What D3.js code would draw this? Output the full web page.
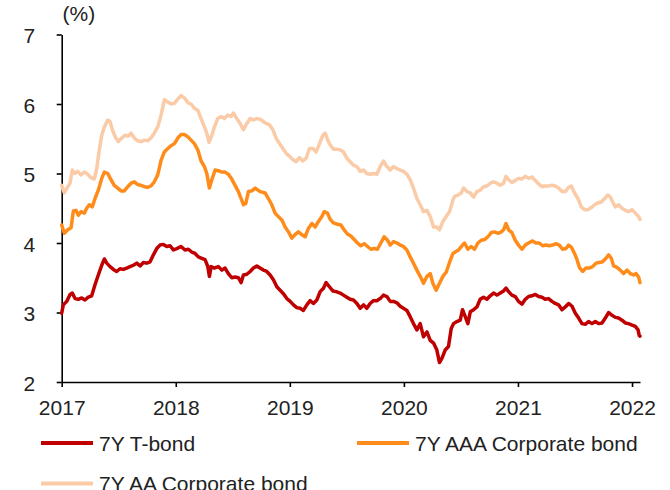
<!DOCTYPE html>
<html><head><meta charset="utf-8">
<script src="https://cdn.jsdelivr.net/npm/d3@7"></script>
<style>body{margin:0;background:#fff}svg{display:block;font-family:"Liberation Sans",Arial,sans-serif}</style>
</head><body><svg id="c" width="670" height="490"></svg>
<script>
// Tick labels
const yearTicks = [2017, 2018, 2019, 2020, 2021, 2022];
const yTicks = [2, 3, 4, 5, 6, 7];
const unitLabel = "(%)";
const seriesNames = ["7Y T-bond", "7Y AAA Corporate bond", "7Y AA Corporate bond"];
const seriesColors = ["#C00000", "#FF8C1A", "#FACBA6"];
const baseYear = 2017;
const lastT = 5.07; // years since Jan 2017 at the end of the data

// [years since Jan 2017, yield %]
const tbond = [
[0,2.99],[0.014,3.11],[0.044,3.16],[0.073,3.26],[0.093,3.28],[0.117,3.20],[0.146,3.19],[0.175,3.21],[0.204,3.18],[0.233,3.22],
[0.263,3.24],[0.292,3.40],[0.321,3.54],[0.351,3.68],[0.374,3.77],[0.395,3.71],[0.424,3.66],[0.453,3.62],[0.482,3.59],[0.511,3.63],
[0.540,3.62],[0.570,3.64],[0.599,3.66],[0.628,3.68],[0.658,3.71],[0.687,3.67],[0.716,3.72],[0.746,3.71],[0.775,3.73],[0.804,3.83],
[0.833,3.92],[0.862,3.97],[0.891,3.98],[0.921,3.95],[0.950,3.96],[0.979,3.90],[1.009,3.92],[1.046,3.95],[1.081,3.90],[1.111,3.91],
[1.140,3.87],[1.169,3.85],[1.198,3.80],[1.228,3.78],[1.257,3.76],[1.281,3.66],[1.295,3.52],[1.310,3.66],[1.339,3.64],[1.374,3.66],
[1.404,3.61],[1.432,3.64],[1.461,3.56],[1.491,3.50],[1.520,3.51],[1.549,3.50],[1.573,3.43],[1.593,3.54],[1.623,3.55],[1.652,3.59],
[1.681,3.64],[1.711,3.67],[1.739,3.64],[1.768,3.61],[1.798,3.59],[1.827,3.54],[1.856,3.47],[1.886,3.37],[1.915,3.32],[1.944,3.27],
[1.974,3.20],[2.003,3.16],[2.032,3.11],[2.061,3.07],[2.090,3.06],[2.119,3.03],[2.149,3.11],[2.178,3.17],[2.207,3.13],[2.237,3.18],
[2.266,3.30],[2.295,3.35],[2.318,3.43],[2.347,3.37],[2.377,3.31],[2.406,3.30],[2.441,3.28],[2.470,3.25],[2.500,3.22],[2.529,3.19],
[2.558,3.18],[2.588,3.13],[2.617,3.06],[2.646,3.11],[2.675,3.06],[2.704,3.13],[2.733,3.17],[2.763,3.17],[2.792,3.20],[2.821,3.25],
[2.851,3.23],[2.880,3.16],[2.909,3.16],[2.939,3.14],[2.968,3.09],[2.996,3.06],[3.026,3.03],[3.055,2.94],[3.084,2.84],[3.114,2.75],
[3.143,2.84],[3.172,2.65],[3.202,2.72],[3.231,2.60],[3.260,2.56],[3.289,2.46],[3.312,2.28],[3.333,2.34],[3.362,2.46],[3.391,2.51],
[3.415,2.77],[3.435,2.84],[3.465,2.87],[3.494,2.89],[3.514,3.04],[3.538,2.94],[3.561,2.84],[3.582,3.01],[3.611,3.04],[3.640,3.08],
[3.669,3.19],[3.698,3.22],[3.728,3.19],[3.757,3.24],[3.786,3.28],[3.816,3.25],[3.845,3.28],[3.874,3.31],[3.895,3.35],[3.918,3.30],
[3.947,3.25],[3.976,3.23],[4.005,3.16],[4.035,3.12],[4.064,3.19],[4.093,3.23],[4.123,3.24],[4.152,3.26],[4.181,3.23],[4.211,3.22],
[4.239,3.19],[4.268,3.20],[4.298,3.16],[4.327,3.13],[4.356,3.11],[4.386,3.04],[4.415,3.08],[4.444,3.13],[4.474,3.09],[4.503,2.99],
[4.532,2.92],[4.561,2.84],[4.590,2.83],[4.619,2.87],[4.649,2.84],[4.678,2.87],[4.707,2.84],[4.737,2.85],[4.766,2.92],[4.795,3.00],
[4.825,2.96],[4.854,2.93],[4.882,2.92],[4.912,2.89],[4.941,2.85],[4.970,2.84],[5.000,2.82],[5.029,2.80],[5.053,2.75],[5.063,2.67],
[5.070,2.66]
];

const aaa = [
[0,4.26],[0.023,4.14],[0.053,4.19],[0.082,4.22],[0.102,4.46],[0.125,4.47],[0.146,4.40],[0.169,4.45],[0.198,4.43],[0.219,4.50],
[0.242,4.55],[0.268,4.52],[0.292,4.64],[0.321,4.76],[0.351,4.93],[0.374,5.02],[0.404,5.00],[0.432,4.91],[0.461,4.83],[0.491,4.79],
[0.520,4.75],[0.549,4.75],[0.579,4.81],[0.608,4.86],[0.637,4.88],[0.667,4.84],[0.696,4.83],[0.725,4.81],[0.754,4.80],[0.782,4.82],
[0.812,4.88],[0.842,4.98],[0.871,5.19],[0.900,5.31],[0.930,5.36],[0.959,5.40],[0.988,5.43],[1.018,5.51],[1.046,5.56],[1.075,5.56],
[1.105,5.53],[1.134,5.48],[1.163,5.43],[1.193,5.34],[1.222,5.18],[1.251,5.10],[1.272,5.00],[1.295,4.79],[1.316,4.91],[1.345,5.05],
[1.374,5.04],[1.404,5.02],[1.432,5.02],[1.461,4.99],[1.491,4.92],[1.520,4.83],[1.549,4.74],[1.573,4.64],[1.593,4.55],[1.614,4.57],
[1.637,4.74],[1.667,4.75],[1.696,4.79],[1.739,4.74],[1.783,4.72],[1.812,4.64],[1.842,4.55],[1.871,4.43],[1.900,4.38],[1.930,4.33],
[1.959,4.23],[1.988,4.16],[2.018,4.07],[2.046,4.12],[2.075,4.16],[2.105,4.12],[2.134,4.09],[2.163,4.21],[2.193,4.28],[2.222,4.23],
[2.251,4.31],[2.281,4.38],[2.301,4.45],[2.330,4.43],[2.354,4.34],[2.382,4.29],[2.418,4.27],[2.447,4.26],[2.476,4.19],[2.505,4.13],
[2.535,4.10],[2.564,4.05],[2.593,4.00],[2.623,3.96],[2.652,3.99],[2.681,3.95],[2.711,3.91],[2.739,3.92],[2.768,3.91],[2.798,4.00],
[2.827,4.09],[2.856,4.04],[2.880,3.97],[2.909,4.02],[2.939,4.00],[2.968,3.97],[2.996,3.95],[3.026,3.90],[3.055,3.80],[3.084,3.71],
[3.114,3.61],[3.143,3.52],[3.172,3.42],[3.202,3.52],[3.231,3.56],[3.254,3.42],[3.283,3.32],[3.312,3.42],[3.342,3.52],[3.371,3.58],
[3.400,3.72],[3.430,3.85],[3.450,3.87],[3.479,3.90],[3.509,3.96],[3.532,4.00],[3.561,3.91],[3.590,3.95],[3.619,3.91],[3.649,4.00],
[3.678,4.04],[3.707,4.05],[3.737,4.09],[3.766,4.15],[3.795,4.16],[3.825,4.14],[3.854,4.16],[3.874,4.19],[3.895,4.28],[3.918,4.19],
[3.947,4.15],[3.976,4.04],[4.005,3.97],[4.035,3.91],[4.064,3.97],[4.093,4.00],[4.128,4.03],[4.158,4.00],[4.187,4.00],[4.216,3.96],
[4.246,3.97],[4.275,3.96],[4.304,3.97],[4.333,3.99],[4.362,3.97],[4.391,3.91],[4.421,3.92],[4.444,3.97],[4.468,3.94],[4.496,3.85],
[4.518,3.76],[4.538,3.65],[4.567,3.59],[4.596,3.64],[4.625,3.64],[4.654,3.66],[4.684,3.71],[4.713,3.72],[4.742,3.73],[4.772,3.78],
[4.795,3.83],[4.818,3.78],[4.839,3.67],[4.868,3.65],[4.897,3.61],[4.926,3.56],[4.956,3.61],[4.985,3.56],[5.014,3.54],[5.035,3.56],
[5.058,3.51],[5.070,3.43]
];

const aa = [
[0,4.83],[0.023,4.72],[0.053,4.81],[0.073,4.86],[0.093,5.05],[0.117,5.00],[0.140,5.03],[0.169,4.98],[0.198,5.02],[0.228,4.99],
[0.257,4.94],[0.286,4.92],[0.307,5.07],[0.327,5.31],[0.351,5.55],[0.374,5.67],[0.404,5.77],[0.424,5.75],[0.444,5.63],[0.468,5.53],
[0.496,5.46],[0.526,5.51],[0.555,5.55],[0.584,5.54],[0.608,5.58],[0.637,5.51],[0.667,5.47],[0.696,5.46],[0.725,5.48],[0.754,5.47],
[0.782,5.51],[0.812,5.58],[0.842,5.67],[0.871,5.84],[0.900,6.06],[0.930,6.03],[0.959,6.00],[0.988,6.01],[1.018,6.07],[1.046,6.12],
[1.075,6.09],[1.105,6.02],[1.134,6.00],[1.163,5.94],[1.193,5.91],[1.222,5.79],[1.251,5.67],[1.272,5.58],[1.292,5.45],[1.316,5.55],
[1.339,5.67],[1.368,5.79],[1.397,5.82],[1.426,5.79],[1.456,5.84],[1.485,5.82],[1.505,5.87],[1.535,5.79],[1.564,5.72],[1.593,5.63],
[1.623,5.72],[1.652,5.79],[1.681,5.77],[1.711,5.79],[1.739,5.78],[1.783,5.73],[1.821,5.70],[1.851,5.63],[1.880,5.51],[1.909,5.43],
[1.939,5.36],[1.968,5.29],[1.996,5.25],[2.026,5.20],[2.055,5.17],[2.084,5.23],[2.114,5.18],[2.143,5.22],[2.172,5.36],[2.202,5.36],
[2.231,5.31],[2.260,5.43],[2.289,5.55],[2.310,5.58],[2.330,5.49],[2.354,5.41],[2.382,5.35],[2.412,5.35],[2.441,5.34],[2.470,5.31],
[2.500,5.22],[2.529,5.17],[2.558,5.12],[2.588,5.10],[2.617,5.03],[2.646,5.05],[2.675,5.00],[2.704,4.99],[2.733,5.00],[2.763,4.99],
[2.792,5.10],[2.821,5.18],[2.851,5.10],[2.880,5.05],[2.909,5.10],[2.939,5.07],[2.968,5.05],[2.996,5.03],[3.026,4.99],[3.055,4.91],
[3.084,4.79],[3.114,4.64],[3.143,4.55],[3.172,4.45],[3.202,4.47],[3.231,4.38],[3.260,4.23],[3.289,4.23],[3.312,4.19],[3.342,4.31],
[3.371,4.38],[3.400,4.45],[3.430,4.62],[3.444,4.67],[3.474,4.69],[3.503,4.72],[3.523,4.79],[3.553,4.74],[3.582,4.72],[3.611,4.66],
[3.640,4.74],[3.669,4.76],[3.698,4.81],[3.728,4.82],[3.757,4.86],[3.786,4.88],[3.816,4.86],[3.845,4.83],[3.874,4.86],[3.895,4.96],
[3.918,4.91],[3.947,4.87],[3.976,4.90],[4.005,4.93],[4.035,4.92],[4.064,4.96],[4.093,4.93],[4.123,4.95],[4.152,4.90],[4.181,4.85],
[4.211,4.81],[4.239,4.82],[4.268,4.82],[4.298,4.83],[4.327,4.82],[4.356,4.79],[4.386,4.74],[4.415,4.74],[4.444,4.80],[4.468,4.82],
[4.496,4.72],[4.526,4.64],[4.555,4.52],[4.584,4.48],[4.614,4.48],[4.643,4.51],[4.672,4.55],[4.702,4.58],[4.731,4.59],[4.760,4.64],
[4.789,4.69],[4.810,4.66],[4.830,4.59],[4.854,4.52],[4.882,4.55],[4.912,4.50],[4.941,4.47],[4.970,4.45],[5.000,4.48],[5.029,4.43],
[5.058,4.38],[5.070,4.34]
];

const svg = d3.select("#c");
const x = d3.scaleLinear().domain([baseYear, baseYear + lastT]).range([61.7, 640]);
const y = d3.scaleLinear().domain([2, 7]).range([382, 34.5]);
const FS = "21px", TXT = "#222";

// axes
const xAxis = d3.axisBottom(x).tickValues(yearTicks).tickFormat(d3.format("d"))
  .tickSize(5).tickSizeOuter(0).tickPadding(13);
const yAxis = d3.axisLeft(y).tickValues(yTicks).tickFormat(d3.format("d"))
  .tickSize(5).tickSizeOuter(0).tickPadding(21.5);

const gx = svg.append("g").attr("transform", "translate(0,382)").call(xAxis);
const gy = svg.append("g").attr("transform", "translate(61.7,0)").call(yAxis);
[gx, gy].forEach(g => {
  g.select(".domain").attr("stroke", "#000").attr("stroke-width", 1.6);
  g.selectAll(".tick line").attr("stroke", "#000").attr("stroke-width", 1.6);
  g.selectAll(".tick text").attr("fill", TXT).style("font-size", FS)
    .style("font-family", '"Liberation Sans", Arial, sans-serif');
});
gy.selectAll(".tick text").attr("dy", "0.4em");

svg.append("text").attr("x", 62.5).attr("y", 20.5).attr("fill", TXT)
  .style("font-size", FS).text(unitLabel);

// series
const line = d3.line().x(d => x(baseYear + d[0])).y(d => y(d[1]));
const seriesData = [tbond, aaa, aa];
[2, 1, 0].forEach(i => {
  svg.append("path").datum(seriesData[i]).attr("d", line)
    .attr("fill", "none").attr("stroke", seriesColors[i])
    .attr("stroke-width", 3.5).attr("stroke-linejoin", "round").attr("stroke-linecap", "round");
});

// legend
const legendPos = [[41, 443], [357, 443], [41, 483.5]];
seriesNames.forEach((name, i) => {
  const [lx, ly] = legendPos[i];
  svg.append("line").attr("x1", lx).attr("x2", lx + 52).attr("y1", ly).attr("y2", ly)
    .attr("stroke", seriesColors[i]).attr("stroke-width", 4);
  svg.append("text").attr("x", lx + 58).attr("y", ly + 7.5).attr("fill", TXT)
    .style("font-size", FS).text(name);
});
</script></body></html>
